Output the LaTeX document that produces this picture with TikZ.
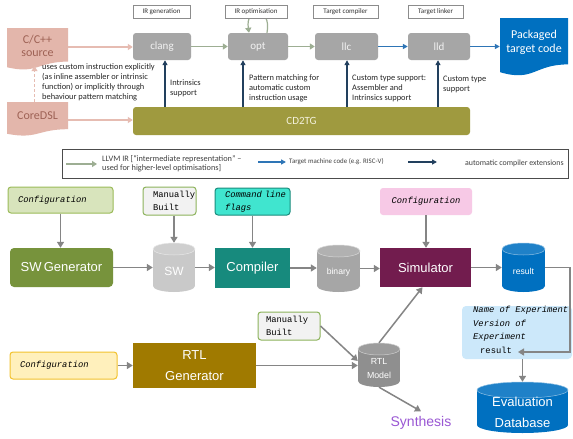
\documentclass[tikz,border=0pt]{standalone}
\usepackage{fontspec}
\setmainfont{Carlito}
\newfontfamily\arialf{Liberation Sans}
\newfontfamily\courf{Liberation Mono}
\usetikzlibrary{arrows.meta,calc}
\newcommand{\fsz}[2]{\fontsize{#1}{#2}\selectfont}
\definecolor{toolgrey}{HTML}{A6A6A6}
\definecolor{pinkfill}{HTML}{E3B6AB}
\definecolor{pinktext}{HTML}{9E6255}
\definecolor{pinkarr}{HTML}{E6BCB2}
\definecolor{irgreen}{HTML}{9DAE93}
\definecolor{bluearr}{HTML}{2E75B6}
\definecolor{bluefill}{HTML}{0070C0}
\definecolor{navy}{HTML}{22405E}
\definecolor{olive}{HTML}{9F9A3F}
\definecolor{cdtext}{HTML}{F3F1DC}
\definecolor{cfggfill}{HTML}{D8E4BC}
\definecolor{cfggdraw}{HTML}{9BBB59}
\definecolor{swgenc}{HTML}{77933C}
\definecolor{swcyl}{HTML}{C9C9C9}
\definecolor{mbfill}{HTML}{F2F2F2}
\definecolor{mbdraw}{HTML}{8CB35B}
\definecolor{cmdfill}{HTML}{40E5CF}
\definecolor{cmddraw}{HTML}{1A8C7D}
\definecolor{compc}{HTML}{178A7D}
\definecolor{binc}{HTML}{A6A6A6}
\definecolor{simc}{HTML}{721C4E}
\definecolor{pinkcfg}{HTML}{F7C9E6}
\definecolor{infofill}{HTML}{CCE8FA}
\definecolor{cfgyfill}{HTML}{FFF0BC}
\definecolor{cfgydraw}{HTML}{F2C22E}
\definecolor{rtlgenc}{HTML}{A07A00}
\definecolor{rtlmc}{HTML}{8F8F8F}
\definecolor{synthc}{HTML}{9A57D4}
\definecolor{arrgrey}{HTML}{858585}
\newcommand{\mydoc}[5]{%
  \fill[#5] (#1,#2) -- (#3,#2) -- (#3,{#2+0.8*#4})
    .. controls ({(#1+#3)/2},{#2+0.8*#4}) and ({(#1+#3)/2},{#2+1.107*#4}) ..
    (#1,{#2+0.934*#4}) -- cycle;}
\newcommand{\mycyl}[6]{%
  \fill[#6] ({#1-#3/2},{#2-#4/2+#5}) rectangle ({#1+#3/2},{#2+#4/2-#5});
  \fill[#6] (#1,{#2+#4/2-#5}) ellipse [x radius={#3/2}, y radius=#5];
  \filldraw[fill=#6!88!white, draw=white!55!#6, line width=0.5pt] (#1,{#2-#4/2+#5}) ellipse [x radius={#3/2}, y radius=#5];}
\tikzset{
  lblbox/.style={draw=black!45, line width=0.6pt, fill=white, font=\fsz{7}{8}, inner sep=0pt, minimum height=13, text=black!80},
  toolbox/.style={fill=toolgrey, rounded corners=3pt, text=white!95!black, font=\fsz{11}{13}, minimum height=27, inner sep=0pt},
  doctext/.style={font=\fsz{12}{13.5}, text=pinktext, align=center, inner sep=0pt},
  note/.style={font=\fsz{8.4}{10}, align=left, anchor=west, inner sep=0pt, text=black!85},
  legtext/.style={align=left, anchor=west, inner sep=0pt, text=black!75},
  pinkarrow/.style={draw=pinkarr, line width=1.6pt, -{Triangle[length=5pt,width=6pt]}},
  irarrow/.style={draw=irgreen, line width=1.6pt, -{Triangle[length=5pt,width=6pt]}},
  bluearrow/.style={draw=bluearr, line width=1.3pt, -{Triangle[length=5pt,width=5pt]}},
  navyarrow/.style={draw=navy, line width=1.4pt, -{Triangle[length=5pt,width=5pt]}},
  greyarrow/.style={draw=arrgrey, line width=1.5pt, -{Triangle[length=6pt,width=7pt]}},
  ttbox/.style={font=\courf\fsz{8.8}{12.5}, rounded corners=3pt, inner ysep=0pt, align=left},
  bigbox/.style={text=white, font=\arialf\fsz{13}{16}, inner sep=0pt},
  cylbox/.style={inner sep=0pt, draw=none},
  cyltext/.style={text=white, inner sep=0pt, align=center}
}
\begin{document}
\begin{tikzpicture}[x=1pt,y=-1pt]
\fill[white] (0,0) rectangle (573,439);
\useasboundingbox (0,0) rectangle (573,439);

% ---------- top section ----------
\node[toolbox, minimum width=58] (clang) at (162,46.5) {clang};
\node[toolbox, minimum width=60] (opt) at (258,46.5) {opt};
\node[toolbox, minimum width=63] (llc) at (346.5,46.5) {llc};
\node[toolbox, minimum width=62] (lld) at (439,46.5) {lld};

\draw[irarrow, line width=1.2pt] ([xshift=9pt]opt.north) .. controls (272,6) and (245,6) .. ([xshift=-9pt]opt.north);

\node[lblbox, minimum width=57] (lgen) at (161.5,12) {IR generation};
\node[lblbox, minimum width=62] (lopt) at (256,12) {IR optimisation};
\node[lblbox, minimum width=65] (lcomp) at (345.5,12) {Target compiler};
\node[lblbox, minimum width=55] (llink) at (435.5,12) {Target linker};

\mydoc{500}{18}{568}{58}{bluefill}
\node[font=\fsz{12}{14}, text=white, align=center, inner sep=0pt, minimum width=68, minimum height=48] (pack) at (534,42) {Packaged\\target code};

\mydoc{7}{28}{68}{42}{pinkfill}
\node[doctext, minimum width=61, minimum height=38] (src) at (37.5,46) {C/C++\\source};
\mydoc{7}{102}{68}{34}{pinkfill}
\node[doctext, minimum width=61, minimum height=28] (dsl) at (37.5,116) {CoreDSL};

\node[fill=olive, rounded corners=3pt, minimum width=337, minimum height=28, text=cdtext, font=\fsz{11}{13}, inner sep=0pt] (cd) at (301.5,121) {CD2TG};

\coordinate (srcout) at ([yshift=-1pt]src.east);
\draw[pinkarrow] (srcout) -- (srcout -| clang.west);
\coordinate (dslout) at ([yshift=-4pt]dsl.east);
\draw[pinkarrow] (dslout) -- (dslout -| cd.west);
\draw[pinkarrow, dash pattern=on 3pt off 2pt] ([xshift=-3pt]dsl.north) -- ([xshift=-3pt,yshift=-1pt]src.south);

\draw[irarrow] (clang) -- (opt);
\draw[irarrow] (opt) -- (llc);
\draw[bluearrow] (llc) -- (lld);
\draw[bluearrow] (lld.east) -- (lld.east -| pack.west);

\coordinate (c1) at ([xshift=3pt]clang.south);
\coordinate (c2) at ([xshift=-15pt]opt.south);
\coordinate (c3) at ([xshift=0.5pt]llc.south);
\coordinate (c4) at ([xshift=-1pt]lld.south);
\draw[navyarrow] (c1 |- cd.north) -- (c1);
\draw[navyarrow] (c2 |- cd.north) -- (c2);
\draw[navyarrow] (c3 |- cd.north) -- (c3);
\draw[navyarrow] (c4 |- cd.north) -- (c4);

\node[note] (n1) at (42,82) {uses custom instruction explicitly\\(as inline assembler or intrinsic\\function) or implicitly through\\behaviour pattern matching};
\node[note] (n2) at (170,88) {Intrinsics\\support};
\node[note] (n3) at (249,88) {Pattern matching for\\automatic custom\\instruction usage};
\node[note] (n4) at (352,88) {Custom type support:\\Assembler and\\Intrinsics support};
\node[note] (n5) at (443,84) {Custom type\\support};

% ---------- legend ----------
\node[draw=black!70, line width=0.8pt, minimum width=506, minimum height=29, inner sep=0pt] (leg) at (315,163.5) {};
\coordinate (la1) at (66,164); \coordinate (la2) at (97,164);
\coordinate (lb1) at (258,162); \coordinate (lb2) at (286,162);
\coordinate (lc1) at (408,162); \coordinate (lc2) at (437,162);
\draw[irarrow, line width=1.4pt] (la1) -- (la2);
\draw[bluearrow] (lb1) -- (lb2);
\draw[navyarrow] (lc1) -- (lc2);
\node[legtext, font=\fsz{8.3}{9.5}] (lt1) at (102,163.5) {LLVM IR [“intermediate representation” –\\used for higher-level optimisations]};
\node[legtext, font=\fsz{6.9}{8.5}] (lt2) at (289,162) {Target machine code (e.g. RISC-V)};
\node[legtext, font=\fsz{7.9}{9}] (lt3) at (465,163) {automatic compiler extensions};

% ---------- bottom section ----------
\node[ttbox, fill=cfggfill, draw=cfggdraw, line width=1pt, minimum height=26, inner xsep=10pt, text width=85] (cfg1) at (60.5,200) {\itshape Configuration};
\node[ttbox, fill=mbfill, draw=mbdraw, line width=1pt, minimum height=28, inner xsep=10pt, text width=33] (mb1) at (169.5,201) {Manually\\Built};
\node[ttbox, fill=cmdfill, draw=cmddraw, line width=1pt, minimum height=27, inner xsep=10pt, text width=55] (cmd) at (252.5,201.5) {\itshape Command~line\\flags};
\node[ttbox, fill=pinkcfg, minimum height=27, minimum width=92, align=center] (cfg3) at (426,201.5) {\itshape Configuration};

\node[bigbox, fill=swgenc, rounded corners=4pt, minimum width=103, minimum height=39] (swgen) at (61.5,267.5) {SW\,Generator};
\node[bigbox, fill=compc, minimum width=75, minimum height=40] (compiler) at (252.5,268) {Compiler};
\node[bigbox, fill=simc, minimum width=91, minimum height=39] (sim) at (425.5,267.5) {Simulator};

\mycyl{174}{267.5}{42}{49}{6}{swcyl}
\node[cylbox, minimum width=42, minimum height=49] (sw) at (174,267.5) {};
\node[cyltext, font=\arialf\fsz{12}{14}] (swt) at (174,271) {SW};

\mycyl{338.5}{268.5}{43}{47}{6}{binc}
\node[cylbox, minimum width=43, minimum height=47] (binary) at (338.5,268.5) {};
\node[cyltext, font=\arialf\fsz{8.6}{10}] (bint) at (338.5,272) {binary};

\mycyl{523.5}{267.5}{43}{49}{6}{bluefill}
\node[cylbox, minimum width=43, minimum height=49] (result) at (523.5,267.5) {};
\node[cyltext, font=\arialf\fsz{8.6}{10}] (rest) at (523.5,271) {result};

\node[fill=infofill, rounded corners=4pt, minimum width=110, minimum height=53, inner sep=0pt] (info) at (517,332.5) {};
\node[font=\courf\fsz{8.8}{13.6}, align=left, anchor=north west, inner sep=0pt] (infot) at (473,306) {\itshape Name of Experiment\\\itshape Version of\\\itshape Experiment\\\hspace*{7pt}result};
\coordinate (resin) at (518,352);
\coordinate (turn) at (570,0);

\mycyl{522.5}{407.5}{91}{51}{8}{bluefill}
\node[cylbox, minimum width=91, minimum height=51] (evaldb) at (522.5,407.5) {};
\node[cyltext, font=\arialf\fsz{13}{21}] (evalt) at (522.5,412.5) {Evaluation\\Database};

\node[ttbox, fill=mbfill, draw=mbdraw, line width=1pt, minimum height=28, inner xsep=8pt, text width=46] (mb2) at (289,326) {Manually\\Built};
\node[ttbox, fill=cfgyfill, draw=cfgydraw, line width=1pt, minimum height=27, inner xsep=10pt, text width=87] (cfg2) at (63.5,365.5) {\itshape Configuration};
\node[bigbox, fill=rtlgenc, minimum width=123, minimum height=45, align=center, font=\arialf\fsz{13}{21}] (rtlgen) at (194.5,365.5) {RTL\\Generator};

\mycyl{379}{365}{42}{44}{6}{rtlmc}
\node[cylbox, minimum width=42, minimum height=44] (rtlm) at (379,365) {};
\node[cyltext, font=\arialf\fsz{8.8}{14}] (rtlmt) at (379,369) {RTL\\Model};

\node[font=\arialf\fsz{14}{16}, text=synthc, inner sep=0pt] (synth) at (421,423) {Synthesis};

% arrows
\draw[greyarrow] (cfg1.south) -- (cfg1.south |- swgen.north);
\draw[greyarrow] (mb1.south -| sw) -- (sw.north);
\draw[greyarrow] (cmd.south) -- (cmd.south |- compiler.north);
\draw[greyarrow] (cfg3.south) -- (cfg3.south |- sim.north);
\draw[greyarrow] (swgen.east) -- (swgen.east -| sw.west);
\draw[greyarrow] (sw.east) -- (sw.east -| compiler.west);
\draw[greyarrow] (compiler.east) -- (compiler.east -| binary.west);
\draw[greyarrow] (binary.east) -- (binary.east -| sim.west);
\draw[greyarrow] (sim.east) -- (sim.east -| result.west);
\draw[greyarrow, line width=1.3pt] (result.east) -- (result.east -| turn) |- (resin);
\draw[greyarrow] (evaldb.north |- info.south) -- (evaldb.north);
\draw[greyarrow] (cfg2.east) -- (cfg2.east -| rtlgen.west);
\draw[greyarrow] (rtlgen.east) -- (rtlgen.east -| rtlm.west);
\draw[greyarrow] (mb2.east) -- ([yshift=4pt]rtlm.west);
\draw[greyarrow] (rtlm.north) -- ([xshift=-3pt]sim.south);
\draw[greyarrow] (rtlm.south) -- ([yshift=5pt]synth.north);
\end{tikzpicture}
\end{document}
